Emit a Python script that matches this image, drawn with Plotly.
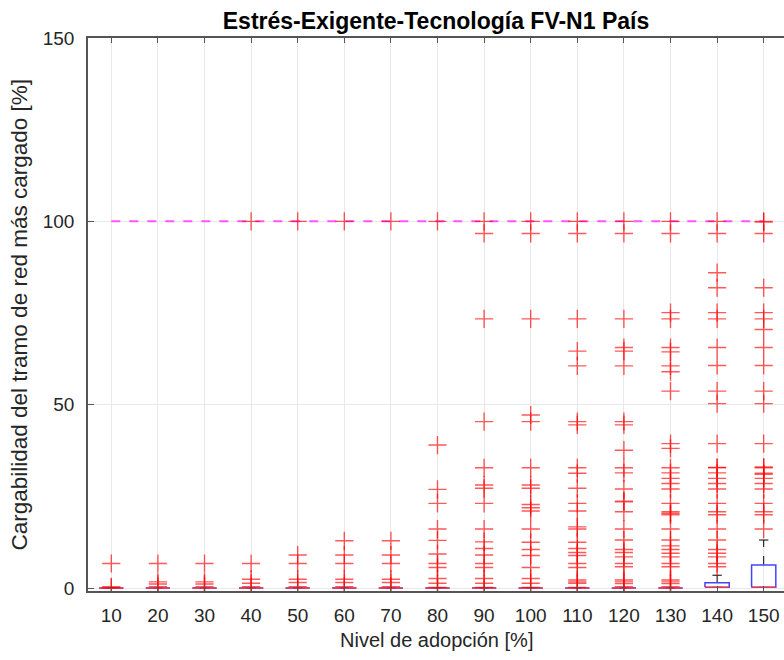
import plotly.graph_objects as go

# ---------------- data ----------------
categories = [10, 20, 30, 40, 50, 60, 70, 80, 90, 100, 110, 120, 130, 140, 150]

box_q1 = [0, 0, 0, 0, 0, 0, 0, 0, 0, 0, 0, 0, 0, 0.2, 0.2]
box_median = [0, 0, 0, 0, 0, 0, 0, 0, 0, 0, 0, 0, 0, 0.2, 0.2]
box_q3 = [0, 0, 0, 0, 0, 0, 0, 0, 0, 0, 0, 0, 0, 1.45, 6.3]
whisker_low = [0, 0, 0, 0, 0, 0, 0, 0, 0, 0, 0, 0, 0, 0.2, 0.2]
whisker_high = [0, 0, 0, 0, 0, 0, 0, 0, 0, 0, 0, 0, 0, 3.5, 13.1]

outliers = {
    10: [0.1, 0.35, 6.7],
    20: [0.4, 1.1, 1.7, 6.7],
    30: [0.4, 1.1, 1.7, 6.7],
    40: [0.4, 1.3, 2.4, 6.7, 100],
    50: [0.4, 1.5, 2.4, 6.7, 9.0, 100],
    60: [0.4, 1.5, 2.4, 6.7, 9.0, 12.9, 100],
    70: [0.4, 1.5, 2.4, 6.7, 9.0, 12.9, 100],
    80: [0.2, 1.3, 2.6, 5.6, 6.7, 9.3, 13.0, 16.1, 23.1, 26.9, 39.0, 100],
    90: [0.2, 1.3, 2.6, 5.6, 6.7, 9.0, 10.8, 12.6, 16.1, 23.1, 27.2, 28.1,
         32.8, 45.4, 73.4, 96.7, 100],
    100: [0.2, 1.3, 2.6, 5.6, 8.9, 10.5, 12.5, 16.1, 21.0, 21.9, 22.8, 27.2,
          28.1, 32.8, 45.4, 47.2, 73.4, 96.7, 100],
    110: [0.2, 1.3, 1.7, 2.2, 5.6, 6.7, 8.9, 9.7, 10.8, 12.5, 16.1, 16.7,
          21.0, 23.1, 27.2, 31.3, 32.8, 44.5, 45.4, 60.6, 64.6, 73.4, 96.7, 100],
    120: [0.4, 1.2, 1.7, 2.2, 5.8, 6.7, 8.5, 9.7, 10.5, 13.1, 16.1, 20.8,
          23.5, 23.7, 27.0, 31.4, 32.8, 37.6, 44.5, 45.4, 60.6, 64.6, 65.6,
          73.4, 96.7, 100],
    130: [0.4, 1.2, 1.7, 2.2, 5.8, 6.7, 8.5, 9.5, 10.5, 11.5, 13.1, 16.1,
          20.0, 20.4, 20.8, 23.1, 27.0, 28.5, 29.9, 31.4, 32.8, 38.1, 39.4,
          53.7, 59.0, 60.6, 64.4, 65.6, 73.4, 75.1, 96.7, 100],
    140: [5.8, 6.7, 8.5, 9.5, 10.5, 13.1, 16.1, 20.0, 20.8, 23.1, 27.0, 28.5,
          29.9, 31.4, 32.8, 32.9, 39.4, 50.3, 53.7, 60.7, 65.6, 73.4, 75.1,
          81.9, 86.0, 96.7, 100],
    150: [16.1, 20.0, 20.8, 23.1, 27.0, 28.5, 29.9, 31.0, 31.3, 32.8, 33.0,
          39.4, 50.3, 53.7, 60.7, 65.6, 70.5, 73.4, 75.1, 81.9, 96.7, 99.8, 100],
}

limit_value = 100
y_ticks = [0, 50, 100, 150]

# ---------------- figure ----------------
pos = list(range(1, len(categories) + 1))
hw = 0.26   # half box width (category units)
cw = 0.1    # half whisker-cap width

fig = go.Figure()

fig.add_trace(go.Scatter(
    x=[pos[0], pos[-1]], y=[limit_value, limit_value], mode="lines",
    line=dict(color="#ff55ff", width=2, dash="dash"), hoverinfo="skip",
    showlegend=False))

wx, wy = [], []
for p, q1, q3, wl, wh in zip(pos, box_q1, box_q3, whisker_low, whisker_high):
    wx += [p, p, None, p, p, None]
    wy += [q3, wh, None, q1, wl, None]
fig.add_trace(go.Scatter(x=wx, y=wy, mode="lines",
                         line=dict(color="black", width=1, dash="dash"),
                         hoverinfo="skip", showlegend=False))
cx, cy = [], []
for p, wl, wh in zip(pos, whisker_low, whisker_high):
    cx += [p - cw, p + cw, None, p - cw, p + cw, None]
    cy += [wh, wh, None, wl, wl, None]
fig.add_trace(go.Scatter(x=cx, y=cy, mode="lines",
                         line=dict(color="black", width=1),
                         hoverinfo="skip", showlegend=False))

bx, by = [], []
for p, q1, q3 in zip(pos, box_q1, box_q3):
    bx += [p - hw, p + hw, p + hw, p - hw, p - hw, None]
    by += [q1, q1, q3, q3, q1, None]
fig.add_trace(go.Scatter(x=bx, y=by, mode="lines",
                         line=dict(color="#4444ff", width=1.5),
                         hoverinfo="skip", showlegend=False))

mx, my = [], []
for p, m in zip(pos, box_median):
    mx += [p - hw, p + hw, None]
    my += [m, m, None]
fig.add_trace(go.Scatter(x=mx, y=my, mode="lines",
                         line=dict(color="#ff3333", width=1.3),
                         hoverinfo="skip", showlegend=False))

ox, oy = [], []
for p, c in zip(pos, categories):
    for v in outliers[c]:
        ox.append(p)
        oy.append(v)
fig.add_trace(go.Scatter(
    x=ox, y=oy, mode="markers",
    marker=dict(symbol="cross-thin", size=13,
                line=dict(color="rgba(255,0,0,0.65)", width=1.4)),
    showlegend=False))

px_per_cat = 46.6
x_end = 0.5 + (784 - 88) / px_per_cat

font_fam = "Liberation Sans, Arial, sans-serif"
axis_col = "#555555"
txt_col = "#262626"

fig.update_layout(
    width=784, height=660,
    margin=dict(l=88, r=0, t=38, b=69, autoexpand=False),
    paper_bgcolor="white", plot_bgcolor="white",
    font=dict(family=font_fam, size=19, color=txt_col),
    title=dict(text="<b>Estrés-Exigente-Tecnología FV-N1 País</b>",
               x=0.5, xref="paper", xanchor="center",
               y=1 - 21 / 660, yref="container", yanchor="middle",
               font=dict(size=23, color="black")),
    xaxis=dict(range=[0.5, x_end], tickmode="array", tickvals=pos,
               ticktext=[str(c) for c in categories],
               tickfont=dict(size=19),
               showgrid=True, gridcolor="#e8e8e8", gridwidth=1,
               showline=True, linecolor=axis_col, linewidth=1.5,
               mirror="ticks", ticks="inside", ticklen=5, tickcolor=axis_col,
               ticklabelstandoff=6, zeroline=False, automargin=False),
    yaxis=dict(range=[-0.8, 150], tickmode="array", tickvals=y_ticks,
               tickfont=dict(size=19),
               showgrid=True, gridcolor="#e8e8e8", gridwidth=1,
               showline=True, linecolor=axis_col, linewidth=1.5,
               ticks="inside", ticklen=6, tickcolor=axis_col,
               ticklabelstandoff=8, zeroline=False, automargin=False),
    annotations=[
        dict(text="Nivel de adopción [%]", xref="paper", yref="paper",
             x=0.5, y=0, xanchor="center", yanchor="middle", yshift=-49,
             showarrow=False, font=dict(size=20, color=txt_col)),
        dict(text="Cargabilidad del tramo de red más cargado [%]",
             xref="paper", yref="paper", x=0, y=0.5, xanchor="center",
             yanchor="middle", xshift=-69, textangle=-90,
             showarrow=False, font=dict(size=22.5, color=txt_col)),
    ],
)

fig.write_html("out.html")
